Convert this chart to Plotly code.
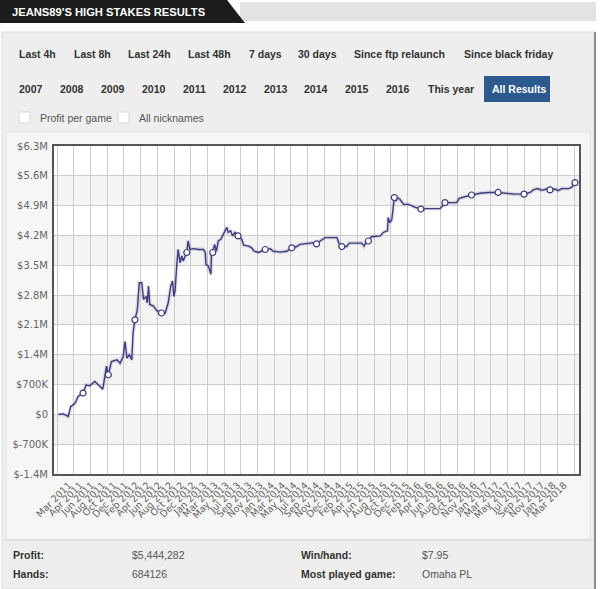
import plotly.graph_objects as go
import numpy as np

# ---------------- data ----------------
months_since_mar2011 = [0.7, 1.5, 2.3, 2.7, 3.4, 3.9, 4.7, 5.2, 5.8, 6.6, 7.5, 7.9, 8.1, 8.5, 8.8, 9.3,
                        10.2, 10.7, 11.2, 11.5, 11.8, 12.2, 12.6, 12.8, 13.1, 13.5, 13.8, 14.2, 14.5,
                        14.9, 15.1, 15.3, 15.5, 16.1, 16.6, 17.4, 18.0, 18.5, 18.9, 19.2, 19.4, 19.6,
                        19.9, 20.1, 20.4, 20.7, 20.9, 21.2, 21.5, 21.7, 22.0, 22.6, 23.4, 24.2, 24.5,
                        24.6, 25.0, 25.4, 25.5, 25.7, 26.0, 26.3, 26.6, 27.0, 27.4, 28.0, 28.2, 28.6,
                        28.9, 29.3, 29.8, 30.4, 30.7, 31.5, 32.0, 32.4, 33.1, 34.2, 35.0, 35.5, 36.6,
                        37.7, 38.5, 39.3, 39.8, 40.9, 41.5, 42.0, 42.5, 43.1, 43.9, 45.8, 46.2, 46.6,
                        47.4, 47.8, 49.8, 50.2, 50.5, 50.9, 51.4, 52.8, 53.3, 54.0, 54.1, 54.4, 54.7,
                        55.1, 55.4, 55.6, 56.0, 56.6, 57.4, 58.5, 59.4, 60.3, 61.7, 62.5, 62.9, 63.3,
                        64.1, 65.2, 65.6, 66.5, 67.6, 69.0, 70.3, 71.9, 73.3, 74.6, 76.1, 77.1, 77.6,
                        78.3, 79.0, 79.7, 80.3, 81.1, 81.6, 82.2, 83.3, 83.8, 84.35]
profit_millions = [0.0, 0.01, -0.05, 0.18, 0.26, 0.42, 0.50, 0.69, 0.67, 0.77, 0.65, 0.59, 0.77, 1.13,
                   0.93, 1.24, 1.28, 1.20, 1.36, 1.71, 1.32, 1.40, 1.28, 1.91, 2.22, 2.46, 3.09, 3.09,
                   2.70, 2.77, 2.62, 3.01, 2.58, 2.54, 2.44, 2.38, 2.38, 2.62, 3.01, 3.13, 2.77, 2.89,
                   3.56, 3.87, 3.56, 3.72, 3.60, 3.72, 3.80, 4.07, 3.87, 3.89, 3.87, 3.87, 3.80, 3.52,
                   3.48, 3.29, 3.80, 3.80, 3.99, 3.83, 4.07, 4.11, 4.23, 4.39, 4.27, 4.31, 4.19, 4.27,
                   4.19, 4.11, 3.97, 3.95, 3.91, 3.83, 3.80, 3.87, 3.89, 3.83, 3.81, 3.83, 3.91, 3.94,
                   3.99, 4.02, 4.02, 4.03, 4.00, 4.07, 4.15, 4.15, 3.99, 3.94, 3.94, 4.02, 4.02, 3.95,
                   4.03, 4.07, 4.17, 4.19, 4.27, 4.31, 4.62, 4.50, 4.58, 5.09, 5.01, 5.09, 5.05, 4.93,
                   4.93, 4.86, 4.82, 4.83, 4.82, 4.83, 4.89, 4.97, 4.97, 4.97, 5.07, 5.11, 5.15, 5.19,
                   5.21, 5.21, 5.18, 5.17, 5.17, 5.21, 5.27, 5.30, 5.26, 5.29, 5.27, 5.29, 5.25, 5.30,
                   5.30, 5.33, 5.44]
marker_months = [4.7, 8.8, 13.1, 17.4, 21.5, 25.7, 29.8, 34.2, 38.5, 42.5, 46.6, 50.9, 55.1, 59.4,
                 63.3, 67.6, 71.9, 76.1, 80.3, 84.35]

y_tickvals = [6.3, 5.6, 4.9, 4.2, 3.5, 2.8, 2.1, 1.4, 0.7, 0.0, -0.7, -1.4]
y_ticktext = ["$6.3M", "$5.6M", "$4.9M", "$4.2M", "$3.5M", "$2.8M", "$2.1M", "$1.4M",
              "$700K", "$0", "$-700K", "$-1.4M"]
x_ticklabels = ["Mar 2011", "Apr 2011", "Jun 2011", "Aug 2011", "Oct 2011", "Dec 2011",
                "Feb 2012", "Apr 2012", "Jun 2012", "Aug 2012", "Oct 2012", "Dec 2012",
                "Jan 2013", "Mar 2013", "May 2013", "Jul 2013", "Sep 2013", "Nov 2013",
                "Jan 2014", "Mar 2014", "May 2014", "Jul 2014", "Sep 2014", "Nov 2014", "Dec 2014",
                "Feb 2015", "Apr 2015", "Jun 2015", "Aug 2015", "Oct 2015", "Dec 2015",
                "Feb 2016", "Apr 2016", "Jun 2016", "Aug 2016", "Oct 2016", "Nov 2016",
                "Jan 2017", "Mar 2017", "May 2017", "Jul 2017", "Sep 2017", "Nov 2017",
                "Jan 2018", "Mar 2018"]

title_text = "JEANS89'S HIGH STAKES RESULTS"
row1_buttons = ["Last 4h", "Last 8h", "Last 24h", "Last 48h", "7 days", "30 days",
                "Since ftp relaunch", "Since black friday"]
row2_buttons = ["2007", "2008", "2009", "2010", "2011", "2012", "2013", "2014", "2015", "2016",
                "This year", "All Results"]
checkbox_labels = ["Profit per game", "All nicknames"]
stats_rows = [("Profit:", "$5,444,282", "Win/hand:", "$7.95"),
              ("Hands:", "684126", "Most played game:", "Omaha PL")]

# ---------------- layout geometry (pixels) ----------------
W, H = 600, 589
L, R, T, B = 54, 579, 146, 474
X_RANGE = [0, 85]


def px(x):
    return (x - L) / (R - L)


def py(y):
    return (B - y) / (B - T)


row1_x = [17, 72, 126, 186, 247, 296, 352, 462]
row2_x = [17, 58, 99, 140, 181, 221, 262, 302, 343, 384, 426, 490]
check_x = [19, 118]
stats_x = [11, 130, 299, 420]

tick_positions = np.linspace(2.4, 82.6, len(x_ticklabels))

fig = go.Figure()

line_color = "#3c3c7c"
fig.add_trace(go.Scatter(x=months_since_mar2011, y=profit_millions, mode="lines",
                         line=dict(color="rgba(60,60,124,0.15)", width=4),
                         hoverinfo="skip", showlegend=False))
fig.add_trace(go.Scatter(x=months_since_mar2011, y=profit_millions, mode="lines",
                         line=dict(color=line_color, width=1.4), showlegend=False))
lookup = dict(zip(months_since_mar2011, profit_millions))
fig.add_trace(go.Scatter(x=marker_months, y=[lookup[m] for m in marker_months], mode="markers",
                         marker=dict(size=6, color="white", line=dict(color=line_color, width=1.2)),
                         showlegend=False))

shapes = []
# page panels
shapes.append(dict(type="rect", xref="paper", yref="paper", x0=px(2), x1=px(595), y0=py(589),
                   y1=py(32), fillcolor="#eeeeee", line=dict(color="#dddddd", width=1), layer="below"))
shapes.append(dict(type="rect", xref="paper", yref="paper", x0=px(6), x1=px(590), y0=py(540),
                   y1=py(132), fillcolor="#f6f6f6", line=dict(color="#e2e2e2", width=1), layer="below"))
shapes.append(dict(type="line", xref="paper", yref="paper", x0=px(595), x1=px(595), y0=py(589),
                   y1=py(32), line=dict(color="#8a8a8a", width=2), layer="below"))
# header
shapes.append(dict(type="rect", xref="paper", yref="paper", x0=px(240), x1=px(596), y0=py(21),
                   y1=py(2), fillcolor="#e3e3e3", line=dict(width=0), layer="below"))
shapes.append(dict(type="path", xref="paper", yref="paper", layer="below",
                   path=f"M {px(0)},{py(0)} L {px(227)},{py(0)} L {px(245)},{py(23)} L {px(0)},{py(23)} Z",
                   fillcolor="#1c1c1c", line=dict(width=0)))
# plot area white
shapes.append(dict(type="rect", xref="paper", yref="paper", x0=0, x1=1, y0=0, y1=1,
                   fillcolor="white", line=dict(width=0), layer="below"))
# alternating bands
for i in range(len(y_tickvals) - 1):
    hi, lo = y_tickvals[i], y_tickvals[i + 1]
    if i % 2 == 1:
        shapes.append(dict(type="rect", xref="paper", yref="y", x0=0, x1=1, y0=lo, y1=hi,
                           fillcolor="#f4f4f4", line=dict(width=0), layer="below"))
# checkboxes
for cx in check_x:
    shapes.append(dict(type="rect", xref="paper", yref="paper", x0=px(cx), x1=px(cx + 11),
                       y0=py(123), y1=py(112), fillcolor="white", line=dict(color="#d8d8d8", width=1)))
# All Results button
shapes.append(dict(type="rect", xref="paper", yref="paper", x0=px(484), x1=px(550), y0=py(102),
                   y1=py(76), fillcolor="#2c5a8c", line=dict(width=0)))
# stats separator
shapes.append(dict(type="line", xref="paper", yref="paper", x0=px(4), x1=px(594), y0=py(540),
                   y1=py(540), line=dict(color="#d6d6d6", width=1)))

annotations = []


def txt(x, y, s, size=10.5, color="#333333", bold=False, family="Liberation Sans, Arial"):
    annotations.append(dict(xref="paper", yref="paper", x=px(x), y=py(y), text=(f"<b>{s}</b>" if bold else s),
                            showarrow=False, xanchor="left", yanchor="middle",
                            font=dict(size=size, color=color, family=family)))


txt(10, 12, title_text, size=11.2, color="white", bold=True)
for s, x in zip(row1_buttons, row1_x):
    txt(x, 54, s, bold=True)
for s, x in zip(row2_buttons, row2_x):
    txt(x, 89, s, bold=True, color=("white" if s == "All Results" else "#333333"))
for s, x in zip(checkbox_labels, check_x):
    txt(x + 19, 118, s, color="#555555")
for r, row in enumerate(stats_rows):
    yy = 555 + 19 * r
    txt(stats_x[0], yy, row[0], bold=True)
    txt(stats_x[1], yy, row[1], color="#555555")
    txt(stats_x[2], yy, row[2], bold=True)
    txt(stats_x[3], yy, row[3], color="#555555")

fig.update_layout(
    width=W, height=H,
    margin=dict(l=L, r=W - R, t=T, b=H - B, pad=0),
    paper_bgcolor="white", plot_bgcolor="white",
    shapes=shapes, annotations=annotations,
    hovermode=False,
    xaxis=dict(range=X_RANGE, tickmode="array", tickvals=tick_positions, ticktext=x_ticklabels,
               tickangle=-45, tickfont=dict(size=9.5, color="#666666", family="DejaVu Sans"),
               showgrid=False, zeroline=False, showline=True, mirror=True,
               linecolor="#555555", linewidth=2, ticks="",
               minor=dict(tickmode="linear", tick0=0.53, dtick=2.70, showgrid=True,
                          gridcolor="#cccccc", gridwidth=1, ticks="")),
    yaxis=dict(range=[-1.4, 6.3], tickmode="array", tickvals=y_tickvals, ticktext=y_ticktext,
               tickfont=dict(size=10, color="#666666", family="DejaVu Sans"),
               showgrid=True, gridcolor="#cccccc", gridwidth=1, zeroline=False,
               showline=True, mirror=True, linecolor="#555555", linewidth=2, ticks="",
               ticklabelstandoff=2),
)

fig.write_html("out.html", config={"displayModeBar": False},
               post_script="document.body.style.margin='0';document.body.style.overflow='hidden';")
